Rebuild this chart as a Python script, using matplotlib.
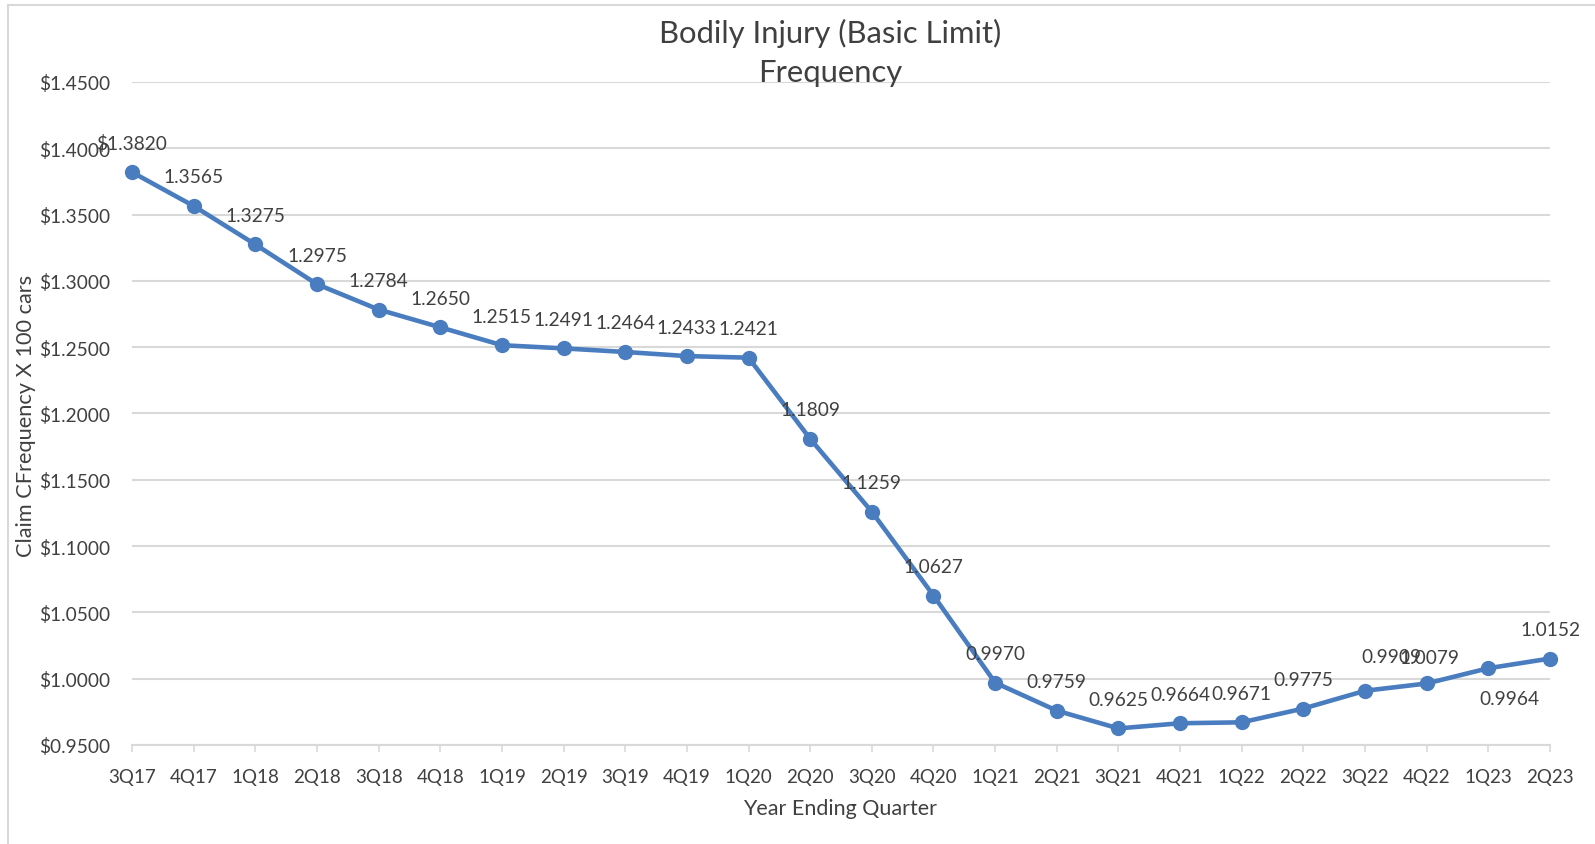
import matplotlib.pyplot as plt
from matplotlib.lines import Line2D
from matplotlib.ticker import MultipleLocator, FuncFormatter

quarters = ["3Q17", "4Q17", "1Q18", "2Q18", "3Q18", "4Q18", "1Q19", "2Q19",
            "3Q19", "4Q19", "1Q20", "2Q20", "3Q20", "4Q20", "1Q21", "2Q21",
            "3Q21", "4Q21", "1Q22", "2Q22", "3Q22", "4Q22", "1Q23", "2Q23"]
frequency = [1.3820, 1.3565, 1.3275, 1.2975, 1.2784, 1.2650, 1.2515, 1.2491,
             1.2464, 1.2433, 1.2421, 1.1809, 1.1259, 1.0627, 0.9970, 0.9759,
             0.9625, 0.9664, 0.9671, 0.9775, 0.9909, 0.9964, 1.0079, 1.0152]

label_texts = [f"{v:.4f}" for v in frequency]
label_texts[0] = "$" + label_texts[0]

# data labels were dragged by hand in the original, offsets in pixels (dx, dy up)
default_shift = (0, 29)
label_shift = {20: (26, 34), 21: (83, -15), 22: (-59, 11)}

text_color = "#404040"
grid_color = "#d9d9d9"
line_color = "#4a7dbf"
plt.rcParams["font.family"] = ["Lato", "DejaVu Sans"]

W, H = 1595, 845
fig = plt.figure(figsize=(W / 100, H / 100), dpi=100)
ax = fig.add_axes([132 / W, 1 - 746 / H, (1550 - 132) / W, (746 - 83) / H])

x = list(range(len(quarters)))
ax.plot(x, frequency, color=line_color, lw=3.3, marker="o", ms=10,
        clip_on=False, zorder=3)

for i, (v, t) in enumerate(zip(frequency, label_texts)):
    dx, dy = label_shift.get(i, default_shift)
    ax.annotate(t, (i, v), xytext=(dx * 0.72, dy * 0.72), textcoords="offset points",
                ha="center", va="center", fontsize=13.8, color=text_color, zorder=4)

ax.set_xlim(0, len(quarters) - 1)
ax.set_ylim(0.95, 1.45)
ax.set_xticks(x)
ax.set_xticklabels(quarters)
ax.yaxis.set_major_locator(MultipleLocator(0.05))
ax.yaxis.set_major_formatter(FuncFormatter(lambda v, p: f"${v:.4f}"))

for s in ["left", "right", "top"]:
    ax.spines[s].set_visible(False)
ax.spines["bottom"].set_color(grid_color)
ax.spines["bottom"].set_linewidth(1.5)
ax.grid(axis="y", color=grid_color, lw=1.5)
ax.set_axisbelow(True)
ax.tick_params(axis="x", length=5, width=1.2, color=grid_color, pad=11.5,
               labelsize=13.5, labelcolor=text_color)
ax.tick_params(axis="y", length=0, pad=16, labelsize=13.8, labelcolor=text_color)

fig.text(830 / W, 1 - 33 / H, "Bodily Injury (Basic Limit)", ha="center", va="center",
         fontsize=22.3, color=text_color)
fig.text(830 / W, 1 - 73 / H, "Frequency", ha="center", va="center",
         fontsize=22.3, color=text_color)
fig.text(840 / W, 1 - 809 / H, "Year Ending Quarter", ha="center", va="center",
         fontsize=15.5, color=text_color)
fig.text(26 / W, 1 - 416 / H, "Claim CFrequency X 100 cars", ha="center", va="center",
         rotation=90, fontsize=15.7, color=text_color)

# outer chart border (only top and left visible in the crop)
fig.add_artist(Line2D([8 / W, 8 / W], [0, 1 - 6 / H], transform=fig.transFigure,
                      color=grid_color, lw=1.5))
fig.add_artist(Line2D([8 / W, 1], [1 - 6 / H, 1 - 6 / H], transform=fig.transFigure,
                      color=grid_color, lw=1.5))

fig.savefig("out.png", dpi=100)
